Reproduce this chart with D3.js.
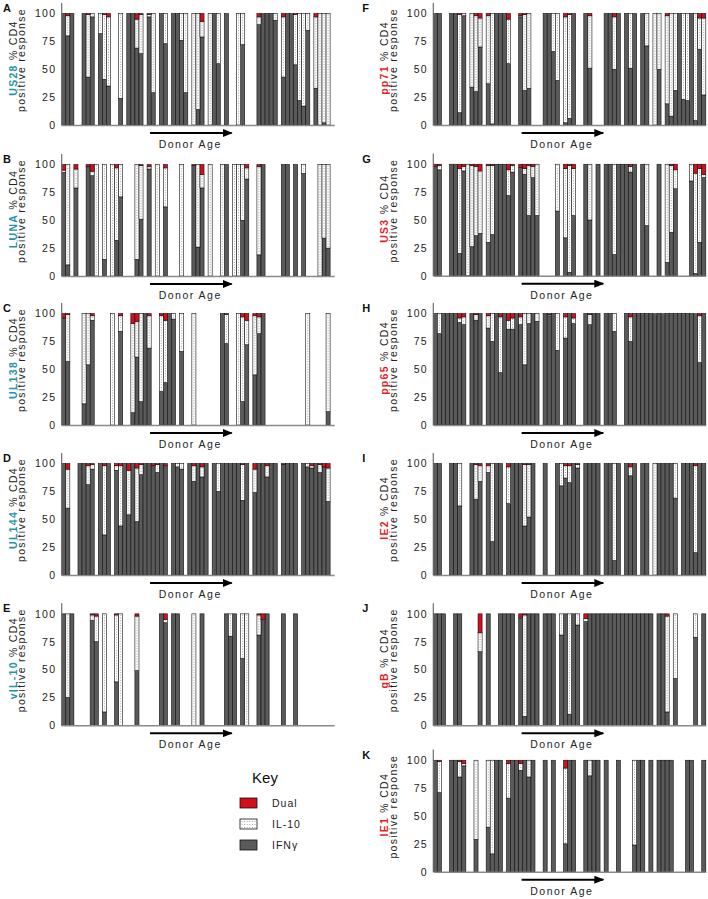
<!DOCTYPE html>
<html><head><meta charset="utf-8">
<script src="https://cdn.jsdelivr.net/npm/d3@7"></script>
<style>body{margin:0;background:#fff} svg{display:block} text{font-family:"Liberation Sans",Arial,sans-serif}</style>
</head><body><svg id="c" width="708" height="899"></svg>
<script>
// ---------- DATA ----------
const N = null;            // donor not tested / no response
const F = [100, 0, 0];     // 100% IFNγ
const L = [0, 100, 0];     // 100% IL-10
// donors ordered by age (67 donors)
const donors = d3.range(1, 68);
const seriesKeys = ["ifn", "il10", "dual"];
const seriesNames = ["IFNγ", "IL-10", "Dual"];
const yTicks = [0, 25, 50, 75, 100];
const antigens = ["US28", "LUNA", "UL138", "UL144", "vIL-10", "pp71", "US3", "pp65", "IE2", "gB", "IE1"];
const letters = ["A", "B", "C", "D", "E", "F", "G", "H", "I", "J", "K"];

// each entry: [IFNγ %, IL-10 %, Dual %]
const US28 = [F,[80,18,2],F,N,N,F,[43,56,1],[97,3,0],N,[82,18,0],
  [41,58,1],[35,62,3],N,N,[24,76,0],N,F,F,[69,26,5],[64,35,1],
  N,[97,2,1],[29,71,0],N,F,[73,27,0],N,F,F,[76,24,0],
  [29,71,0],N,L,[14,86,0],[79,14,7],N,L,F,[55,45,0],N,
  F,N,N,L,[72,28,0],N,N,N,[90,7,3],F,
  F,F,[94,6,0],N,[43,54,3],F,F,[54,45,1],[22,78,0],[17,83,0],
  [85,15,0],N,[33,64,3],L,[2,98,0],L,N];
const LUNA = [[93,2,5],[10,90,0],N,[79,17,4],N,N,[98,0,2],[90,4,6],L,N,
  [15,85,0],N,L,[32,65,3],[71,29,0],N,N,N,[15,85,0],[51,48,1],
  N,[96,2,2],N,L,N,[62,35,3],N,N,N,L,
  N,N,[99,0,1],[26,74,0],[79,12,9],N,L,N,N,L,
  F,N,L,L,[50,50,0],[87,10,3],N,N,[19,79,2],F,
  N,N,N,N,F,F,N,F,N,[92,8,0],
  N,N,N,L,[34,66,0],[25,75,0],N];
const UL138 = [[96,0,4],[57,42,1],N,N,N,[19,81,0],[54,46,0],[94,4,2],N,N,
  N,N,L,N,[84,14,2],N,N,[11,80,9],[61,32,7],[21,79,0],
  F,[69,29,2],N,N,[30,68,2],[38,56,6],F,[95,5,0],N,[66,34,0],
  N,N,L,N,N,N,N,N,N,F,
  [73,26,1],N,N,L,[21,76,3],[72,22,6],N,[45,53,2],[82,15,3],F,
  N,N,N,N,N,N,N,N,N,N,
  L,N,N,N,N,[12,88,0],N];
const UL144 = [F,[60,35,5],N,N,F,F,[81,17,2],[95,4,1],N,F,
  [36,62,2],F,N,[94,4,2],[44,54,2],F,[54,40,6],F,[48,48,4],[90,9,1],
  F,F,[98,0,2],[92,7,1],F,[98,0,2],N,F,[97,3,0],[95,5,0],
  N,F,[84,14,2],F,[88,9,3],F,N,F,[75,25,0],F,
  F,F,F,F,[67,32,1],F,N,[74,21,5],F,F,
  [88,10,2],F,F,N,[99,0,1],F,F,F,N,F,
  [97,3,0],[96,2,2],F,[92,7,1],[97,0,3],[66,30,4],N];
const vIL10 = [F,[25,75,0],F,N,N,N,N,[94,5,1],[75,23,2],N,
  [12,88,0],N,N,[39,60,1],L,N,N,N,[49,49,2],N,
  N,N,N,N,F,[92,3,5],N,F,F,N,
  N,N,L,N,F,N,N,N,N,N,
  F,[80,20,0],F,N,[60,40,0],L,N,N,[81,18,1],[94,1,5],
  F,N,N,N,F,N,N,F,N,N,
  N,N,N,N,N,N,N];
const pp71 = [F,F,N,N,F,F,[11,88,1],[98,2,0],N,[34,66,0],
  [30,68,2],[70,26,4],N,[37,61,2],[1,99,0],F,F,F,[55,40,5],N,
  N,[97,1,2],[31,68,1],[33,67,0],N,N,N,F,F,[66,34,0],
  [40,60,0],N,[2,95,3],[6,93,1],F,N,N,F,[51,47,2],N,
  N,N,F,F,[50,47,3],F,N,F,[51,49,0],F,
  N,F,[71,29,0],N,L,[50,50,0],N,[19,79,2],[8,92,0],[31,69,0],
  F,[23,77,0],[22,78,0],F,[4,96,0],[68,28,4],[27,69,4]];
const US3 = [[98,0,2],[95,4,1],N,N,F,F,[20,76,4],[94,4,2],L,[26,73,1],
  [36,62,2],[38,56,6],N,[30,69,1],[37,62,1],F,F,F,[72,23,5],[93,6,1],
  N,[97,0,3],[91,5,4],[54,45,1],[88,10,2],[54,46,0],N,N,N,N,
  [58,42,0],N,[34,62,4],[3,96,1],[54,42,4],N,N,F,[50,50,0],N,
  F,N,F,F,[19,81,0],F,F,F,[93,5,2],F,
  N,F,[45,55,0],N,N,F,N,[12,88,0],[39,60,1],[78,17,5],
  N,N,N,[85,15,0],[2,90,8],[30,66,4],[88,3,9]];
const pp65 = [F,[82,18,0],F,F,F,F,[92,4,4],[90,7,3],N,F,
  [94,5,1],F,N,[87,11,2],[75,25,0],F,[47,50,3],F,[86,8,6],[86,10,4],
  F,[90,7,3],[54,46,0],[91,9,0],F,[93,7,0],N,F,[98,1,1],F,
  [67,33,0],N,[78,19,3],F,[91,5,4],N,N,F,[90,9,1],F,
  F,N,F,F,[84,16,0],N,N,F,[75,22,3],F,
  F,F,F,F,[99,1,0],F,[99,1,0],F,F,F,
  F,F,F,F,[99,1,0],[56,42,2],F];
const IE2 = [F,F,N,N,F,F,[62,38,0],N,N,F,
  [68,31,1],[84,14,2],N,[92,6,2],[30,70,0],F,F,N,[64,33,3],F,
  F,F,[44,55,1],[52,47,1],F,N,N,F,N,N,
  F,[80,20,0],[87,11,2],[83,15,2],F,[96,3,1],N,F,F,F,
  F,N,F,F,[13,87,0],F,N,F,[89,8,3],F,
  N,F,F,N,L,F,F,F,F,[69,31,0],
  N,F,F,F,[20,78,2],F,F];
const gB = [F,F,F,N,N,F,F,N,N,N,
  N,[66,17,17],N,F,N,N,F,F,F,F,
  N,[96,1,3],[8,91,1],F,F,F,N,F,F,F,
  N,[81,19,0],F,[10,90,0],F,[90,10,0],N,[93,3,4],F,F,
  F,F,F,F,F,F,F,F,F,F,
  F,F,F,F,N,F,F,[12,86,2],N,[42,58,0],
  N,N,N,N,[79,21,0],N,F];
const IE1 = [F,[71,28,1],N,N,F,F,[85,14,1],[95,2,3],N,N,
  [29,71,0],N,N,[40,60,0],[16,84,0],F,F,N,[66,31,3],F,
  F,[91,6,3],F,[85,15,0],F,N,N,F,N,F,
  N,N,[25,68,7],F,F,N,N,F,[86,14,0],F,
  F,N,F,N,N,F,N,N,N,[24,76,0],
  F,F,N,F,N,F,F,F,F,N,
  N,N,F,F,N,N,F];
const panelData = [US28, LUNA, UL138, UL144, vIL10, pp71, US3, pp65, IE2, gB, IE1];

// ---------- LAYOUT ----------
const colX0 = [61.7, 433.3];
const plotW = 272.5;
const zeroY = [125, 276, 425, 575, 725.3, 125, 275.7, 425, 575, 725.3, 871.7];
const cols  = [0, 0, 0, 0, 0, 1, 1, 1, 1, 1, 1];
const titleColor = ["#1f95a6", "#e41f26"];
const fills = {ifn: "#5a5a5a", il10: "#ffffff", dual: "#d1101c"};
const FS = 10.5, LS = 1.2;

const svg = d3.select("#c");
const defs = svg.append("defs");
defs.append("marker").attr("id", "ah").attr("viewBox", "0 0 10 8").attr("refX", 9).attr("refY", 4)
  .attr("markerWidth", 10).attr("markerHeight", 8).attr("markerUnits", "userSpaceOnUse").attr("orient", "auto")
  .append("path").attr("d", "M0,0 L10,4 L0,8 Z").attr("fill", "#000");

const stack = d3.stack().keys(seriesKeys);

panelData.forEach((data, i) => {
  const c = cols[i], x0 = colX0[c], y0 = zeroY[i];
  const g = svg.append("g");
  const x = d3.scaleBand().domain(donors).range([x0, x0 + plotW]).padding(0);
  const y = d3.scaleLinear().domain([0, 110]).range([y0, y0 - 122.6]);

  const rows = donors.map((d, j) => data[j] ? {donor: d, ifn: data[j][0], il10: data[j][1], dual: data[j][2]} : null)
    .filter(r => r);
  const layers = stack(rows);
  layers.forEach(layer => {
    const segs = layer.filter(s => s[1] - s[0] > 0);
    g.append("g").selectAll("rect").data(segs).join("rect")
      .attr("x", s => x(s.data.donor))
      .attr("width", x.bandwidth())
      .attr("y", s => y(s[1]))
      .attr("height", s => y(s[0]) - y(s[1]))
      .attr("fill", fills[layer.key])
      .attr("stroke", "#111").attr("stroke-width", 0.6);
    if (layer.key === "il10") {
      g.append("g").selectAll("line").data(segs.filter(s => s[1] - s[0] > 1.5)).join("line")
        .attr("x1", s => x(s.data.donor) + x.bandwidth() / 2)
        .attr("x2", s => x(s.data.donor) + x.bandwidth() / 2)
        .attr("y1", s => y(s[1]) + 1).attr("y2", s => y(s[0]) - 1)
        .attr("stroke", "#9a9a9a").attr("stroke-width", 0.9).attr("stroke-dasharray", "1,1.6");
    }
  });

  // y axis
  const ya = g.append("g").attr("transform", `translate(${x0 - 0.5},0)`)
    .call(d3.axisLeft(y).tickValues(yTicks).tickSize(0).tickPadding(5).tickSizeOuter(0));
  ya.select(".domain").attr("stroke", "#6e6e6e").attr("stroke-width", 1.2);
  ya.selectAll("text").attr("font-size", FS).attr("letter-spacing", LS).attr("fill", "#222")
    .attr("font-family", '"Liberation Sans",Arial,sans-serif');
  // x axis
  const xa = g.append("g").attr("transform", `translate(0,${y0})`)
    .call(d3.axisBottom(x).tickValues([]).tickSizeOuter(0));
  xa.select(".domain").attr("stroke", "#8a8a8a").attr("stroke-width", 1.4);

  // arrow + Donor Age
  g.append("line").attr("x1", x0 + 88.3).attr("x2", x0 + 170).attr("y1", y0 + 8).attr("y2", y0 + 8)
    .attr("stroke", "#000").attr("stroke-width", 2).attr("marker-end", "url(#ah)");
  g.append("text").attr("x", x0 + 128.5).attr("y", y0 + 23).attr("text-anchor", "middle")
    .attr("font-size", FS).attr("letter-spacing", 1.5).attr("fill", "#222").text("Donor Age");

  // panel letter
  g.append("text").attr("x", c === 0 ? 3 : x0 - 71).attr("y", y0 - 113)
    .attr("font-size", 11).attr("font-weight", "bold").attr("fill", "#111").text(letters[i]);

  // y titles
  const cy = y0 - 67;
  const t1 = g.append("text").attr("transform", `translate(${x0 - 45},${cy}) rotate(-90)`)
    .attr("text-anchor", "middle").attr("font-size", FS).attr("letter-spacing", 1.3).attr("fill", "#222");
  t1.append("tspan").attr("fill", titleColor[c]).attr("font-weight", "bold").text(antigens[i]);
  t1.append("tspan").text(" % CD4");
  g.append("text").attr("transform", `translate(${x0 - 36.5},${cy + 2}) rotate(-90)`)
    .attr("text-anchor", "middle").attr("font-size", FS).attr("letter-spacing", 1.3).attr("fill", "#222")
    .text("positive response");
});

// ---------- KEY ----------
const key = svg.append("g");
key.append("text").attr("x", 265).attr("y", 783).attr("text-anchor", "middle")
  .attr("font-size", 15).attr("fill", "#111").text("Key");
const keyOrder = ["dual", "il10", "ifn"];
const keyNames = {dual: "Dual", il10: "IL-10", ifn: "IFNγ"};
const ky = d3.scalePoint().domain(keyOrder).range([803, 845]);
keyOrder.forEach(k => {
  key.append("rect").attr("x", 240).attr("y", ky(k) - 5).attr("width", 17).attr("height", 10)
    .attr("fill", fills[k]).attr("stroke", "#111").attr("stroke-width", 0.8);
  if (k === "il10") {
    [2.5, 5.5, 8.5].forEach(dy => key.append("line").attr("x1", 241.5).attr("x2", 256)
      .attr("y1", ky(k) - 5 + dy).attr("y2", ky(k) - 5 + dy)
      .attr("stroke", "#9a9a9a").attr("stroke-width", 0.9).attr("stroke-dasharray", "1,1.6"));
  }
  key.append("text").attr("x", 272).attr("y", ky(k) + 4).attr("font-size", FS).attr("letter-spacing", 1)
    .attr("fill", "#222").text(keyNames[k]);
});
</script></body></html>
